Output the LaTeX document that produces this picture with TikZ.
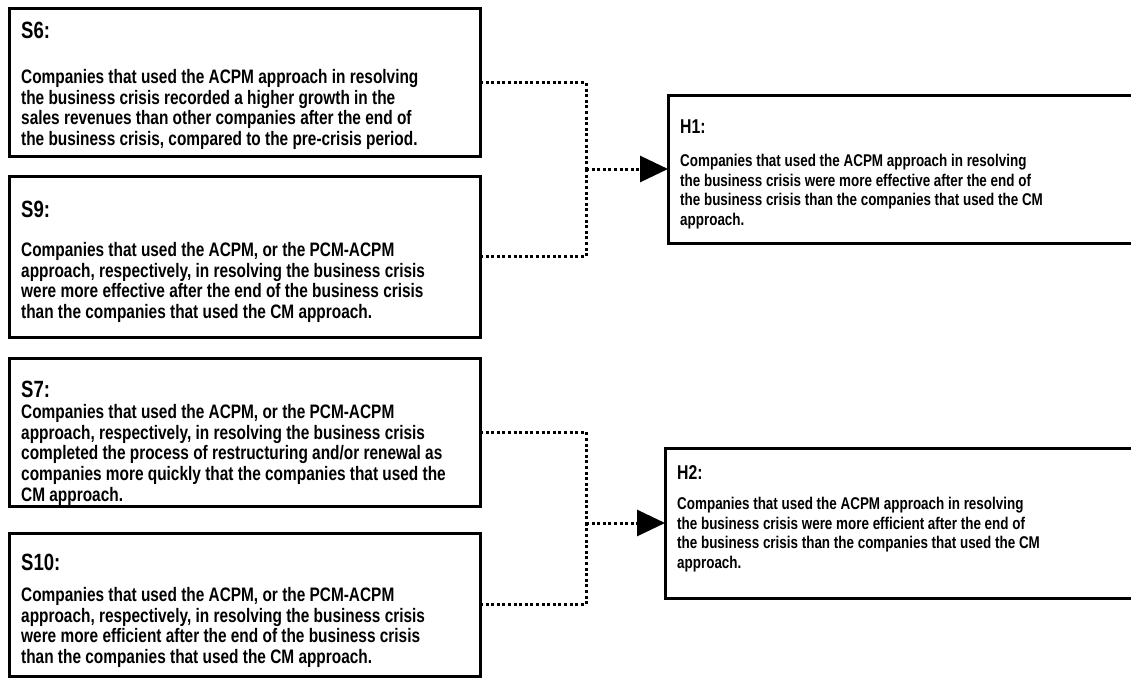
\documentclass[tikz,border=0pt]{standalone}
\usepackage{fontspec}
\setmainfont{Liberation Sans}[FakeStretch=0.79]
\usetikzlibrary{arrows.meta}
\tikzset{
  box/.style={draw, line width=3pt, inner sep=0pt, outer sep=0pt, anchor=north west},
  head/.style={anchor=base west, inner sep=0pt, font=\fontsize{23.5}{26}\selectfont\bfseries},
  body/.style={anchor=north west, inner sep=0pt, align=left, font=\fontsize{19.5}{20.7}\selectfont\bfseries},
  hhead/.style={anchor=base west, inner sep=0pt, font=\fontsize{20}{22}\selectfont\bfseries},
  hbody/.style={anchor=north west, inner sep=0pt, align=left, font=\fontsize{17}{19.5}\selectfont\bfseries},
  link/.style={line width=3pt, dash pattern=on 3pt off 2.6pt},
  arr/.style={link, -{Triangle[length=28pt,width=26pt]}}
}
\begin{document}
\begin{tikzpicture}[x=1pt,y=-1pt]
\useasboundingbox (0,0) rectangle (1131,677);
% boxes
\node[box, minimum width=471pt, minimum height=147pt] (s6) at (9,9) {};
\node[box, minimum width=471pt, minimum height=161pt] (s9) at (9,176) {};
\node[box, minimum width=471pt, minimum height=148pt] (s7) at (9,358) {};
\node[box, minimum width=471pt, minimum height=143pt] (s10) at (9,533) {};
\node[box, minimum width=477pt, minimum height=148pt] (h1) at (668,95) {};
\node[box, minimum width=480pt, minimum height=150pt] (h2) at (665,448) {};
% texts
\node[head] (s6h) at (21,39) {S6:};
\node[body] (s6b) at (21,69) {\rule{0pt}{14pt}Companies that used the ACPM approach in resolving\\
the business crisis recorded a higher growth in the\\
sales revenues than other companies after the end of\\
the business crisis, compared to the pre-crisis period.};
\node[head] (s9h) at (21,217) {S9:};
\node[body] (s9b) at (21,242) {\rule{0pt}{14pt}Companies that used the ACPM, or the PCM-ACPM\\
approach, respectively, in resolving the business crisis\\
were more effective after the end of the business crisis\\
than the companies that used the CM approach.};
\node[head] (s7h) at (21,397) {S7:};
\node[body] (s7b) at (21,404) {\rule{0pt}{14pt}Companies that used the ACPM, or the PCM-ACPM\\
approach, respectively, in resolving the business crisis\\
completed the process of restructuring and/or renewal as\\
companies more quickly that the companies that used the\\
CM approach.};
\node[head] (s10h) at (21,570) {S10:};
\node[body] (s10b) at (21,587) {\rule{0pt}{14pt}Companies that used the ACPM, or the PCM-ACPM\\
approach, respectively, in resolving the business crisis\\
were more efficient after the end of the business crisis\\
than the companies that used the CM approach.};
\node[hhead] (h1h) at (680,133) {H1:};
\node[hbody] (h1b) at (680,154) {\rule{0pt}{12pt}Companies that used the ACPM approach in resolving\\
the business crisis were more effective after the end of\\
the business crisis than the companies that used the CM\\
approach.};
\node[hhead] (h2h) at (677,479) {H2:};
\node[hbody] (h2b) at (677,497) {\rule{0pt}{12pt}Companies that used the ACPM approach in resolving\\
the business crisis were more efficient after the end of\\
the business crisis than the companies that used the CM\\
approach.};
% connectors
\coordinate (j1) at (586,169);
\coordinate (j2) at (586,523);
\draw[link] (s6.east) -| (j1);
\draw[link] (s9.east) -| (j1);
\draw[arr] (j1) -- (h1.west);
\draw[link] (s7.east) -| (j2);
\draw[link] (s10.east) -| (j2);
\draw[arr] (j2) -- (h2.west);
\end{tikzpicture}
\end{document}
